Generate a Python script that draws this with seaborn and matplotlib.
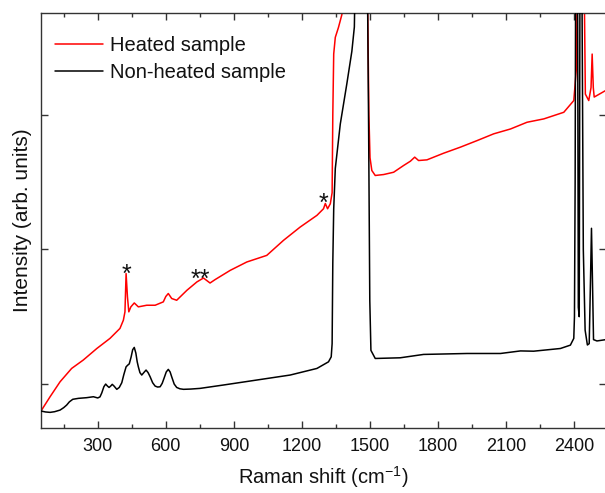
import matplotlib
matplotlib.use("Agg")
import matplotlib.pyplot as plt
from matplotlib.ticker import MultipleLocator, FixedLocator, NullFormatter
import seaborn as sns
import pandas as pd

# ---- data ----
heated_x = [50, 90, 134, 185, 236, 296, 354, 398, 413, 420, 425, 431, 437, 446, 461, 479,
            516, 553, 589, 600, 611, 626, 648, 693, 737, 766, 795, 817, 884, 957, 1045, 1119,
            1192, 1266, 1295, 1303, 1313, 1325, 1333, 1336, 1340, 1347, 1361, 1376, 1385,
            1485, 1490, 1495, 1500, 1508, 1523, 1560, 1604, 1648, 1678, 1697, 1714, 1751,
            1824, 1898, 1972, 2045, 2119, 2192, 2266, 2354, 2398, 2410, 2416, 2440, 2449,
            2464, 2474, 2479, 2484, 2488, 2540]
heated_y = [800, 906, 1017, 1116, 1178, 1264, 1339, 1413, 1474, 1536, 1820, 1647, 1536, 1573,
            1602, 1573, 1585, 1585, 1610, 1650, 1672, 1635, 1622, 1696, 1758, 1787, 1750, 1775,
            1844, 1906, 1955, 2067, 2165, 2252, 2301, 2340, 2301, 2338, 2420, 3000, 3450,
            3573, 3647, 3742, 4600, 4600, 3750, 3000, 2680, 2585, 2548, 2555, 2572, 2622,
            2654, 2684, 2659, 2664, 2713, 2758, 2807, 2857, 2893, 2943, 2968, 3017, 3104,
            3350, 4600, 4600, 3152, 3104, 3200, 3449, 3200, 3130, 3180]

nonheated_x = [50, 70, 90, 110, 134, 150, 163, 175, 190, 215, 251, 281, 300, 310, 318, 327,
               335, 343, 350, 357, 364, 372, 384, 395, 406, 415, 425, 432, 439, 447, 454, 461,
               468, 474, 479, 486, 494, 503, 513, 522, 531, 542, 553, 564, 575, 584, 592, 602,
               611, 619, 626, 637, 648, 662, 678, 710, 751, 854,
               1001, 1148, 1266, 1317, 1329, 1333, 1336, 1340, 1347, 1369, 1398, 1420, 1431,
               1440, 1485, 1490, 1494, 1499, 1504, 1523, 1633, 1736, 1928, 2075, 2163, 2221,
               2339, 2383, 2398, 2401, 2404, 2407, 2414, 2418, 2422, 2426, 2432, 2440, 2448,
               2458, 2466, 2472, 2476, 2480, 2485, 2500, 2540]
nonheated_y = [800, 793, 790, 795, 807, 825, 844, 868, 887, 894, 899, 906, 897, 905, 935, 980,
               1000, 985, 975, 985, 998, 985, 961, 975, 1010, 1070, 1128, 1140, 1150, 1200,
               1255, 1272, 1230, 1165, 1128, 1085, 1067, 1085, 1104, 1085, 1054, 1010, 985,
               978, 980, 1005, 1042, 1090, 1109, 1090, 1054, 1000, 975, 965, 961, 963, 968,
               993, 1030, 1067, 1116, 1165, 1202, 1300, 1900, 2300, 2600, 2930, 3230,
               3470, 3650, 4600, 4600, 3700, 2860, 1620, 1250, 1190, 1195, 1220, 1227, 1227,
               1246, 1244, 1264, 1289, 1339, 1500, 2500, 4600, 4600, 1570, 1500, 4600, 4600,
               2000, 1400, 1290, 1300, 1800, 2156, 1800, 1330, 1320, 1330]

series_labels = ["Heated sample", "Non-heated sample"]
x_ticks = [300, 600, 900, 1200, 1500, 1800, 2100, 2400]
y_ticks = [1000, 2000, 3000]
marks = [("*", 425, 1760), ("**", 751, 1718), ("*", 1294, 2282)]

# ---- figure ----
sns.set_style("ticks")
plt.rcParams["font.family"] = ["Liberation Sans", "DejaVu Sans"]

fig = plt.figure(figsize=(6.05, 4.93), dpi=100)
ax = fig.add_axes([41 / 605, 1 - 428 / 493, 565 / 605, (428 - 12.7) / 493])

df_h = pd.DataFrame({"x": heated_x, "y": heated_y})
df_n = pd.DataFrame({"x": nonheated_x, "y": nonheated_y})
sns.lineplot(data=df_h, x="x", y="y", color="#ff0000", lw=1.1, ax=ax,
             label=series_labels[0], sort=False, zorder=2)
sns.lineplot(data=df_n, x="x", y="y", color="#000000", lw=1.1, ax=ax,
             label=series_labels[1], sort=False, zorder=3)

for txt, mx, my in marks:
    ax.text(mx, my, txt, ha="center", va="baseline", fontsize=18, color="#111111")

ax.set_xlim(50, 2540)
ax.set_ylim(674, 3756)

ax.xaxis.set_major_locator(FixedLocator(x_ticks))
ax.xaxis.set_minor_locator(MultipleLocator(150))
ax.yaxis.set_major_locator(FixedLocator(y_ticks))
ax.yaxis.set_major_formatter(NullFormatter())
ax.tick_params(axis="both", which="both", direction="in", top=True, right=True,
               colors="#333333", width=1.0)
ax.tick_params(axis="both", which="major", length=5)
ax.tick_params(axis="both", which="minor", length=3)
ax.tick_params(axis="x", which="major", labelsize=13, pad=7, labelcolor="#111111")
for s in ax.spines.values():
    s.set_color("#333333")
    s.set_linewidth(1.0)

ax.set_xlabel("Raman shift (cm$^{\\mathregular{-1}}$)", fontsize=14.5, color="#111111",
              labelpad=7)
ax.set_ylabel("Intensity (arb. units)", fontsize=15, color="#111111", labelpad=3)

leg = ax.legend(loc="upper left", bbox_to_anchor=(0.0, 0.978), frameon=False,
                fontsize=14.5, handlelength=2.4, handletextpad=0.35, labelspacing=0.42,
                borderaxespad=0.3)
for t in leg.get_texts():
    t.set_color("#111111")

fig.savefig("out.png", dpi=100)
